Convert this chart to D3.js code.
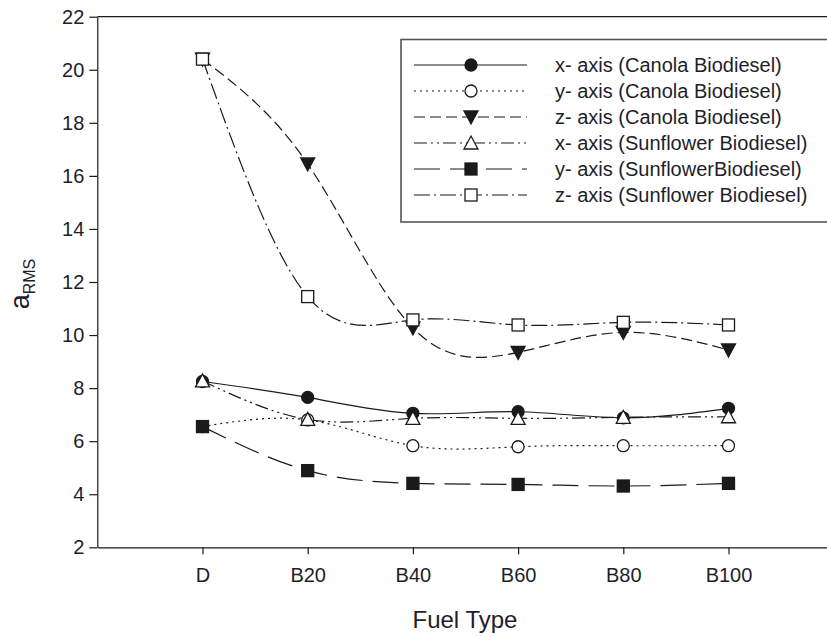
<!DOCTYPE html>
<html><head><meta charset="utf-8">
<script src="https://cdn.jsdelivr.net/npm/d3@7"></script>
<style>
html,body{margin:0;padding:0;background:#fff;}
svg{display:block;}
text{font-family:"Liberation Sans",Arial,sans-serif;fill:#1e1e2a;}
</style></head>
<body>
<script>
const categories = ["D","B20","B40","B60","B80","B100"];
const xCanola    = [8.25, 7.65, 7.05, 7.11, 6.88, 7.24];
const yCanola    = [6.55, 6.80, 5.83, 5.79, 5.83, 5.83];
const zCanola    = [20.4, 16.45, 10.27, 9.35, 10.10, 9.44];
const xSunflower = [8.27, 6.82, 6.86, 6.86, 6.90, 6.92];
const ySunflower = [6.55, 4.89, 4.41, 4.37, 4.31, 4.41];
const zSunflower = [20.4, 11.45, 10.57, 10.38, 10.48, 10.38];
const seriesNames = ["x- axis (Canola Biodiesel)","y- axis (Canola Biodiesel)","z- axis (Canola Biodiesel)",
  "x- axis (Sunflower Biodiesel)","y- axis (SunflowerBiodiesel)","z- axis (Sunflower Biodiesel)"];
const yTicks = [2,4,6,8,10,12,14,16,18,20,22];

const W = 827, H = 637;
const svg = d3.select("body").append("svg").attr("width", W).attr("height", H);

const x = d3.scaleLinear().domain([-1, 6]).range([97.3, 833.7]);
const y = d3.scaleLinear().domain([2, 22]).range([547.3, 16.7]);

const styles = [
  {dash:null, marker:"circle", fill:true},
  {dash:"2,4", marker:"circle", fill:false},
  {dash:"11,5", marker:"tri-down", fill:true},
  {dash:"13,4,2,4,2,4", marker:"tri-up", fill:false},
  {dash:"26,10", marker:"square", fill:true},
  {dash:"16,4,2,4", marker:"square", fill:false}
];
const data = [xCanola, yCanola, zCanola, xSunflower, ySunflower, zSunflower];
const ink = "#1a1a1a";

// Frame top line
svg.append("line").attr("x1", 97.3).attr("x2", W).attr("y1", 16.7).attr("y2", 16.7)
  .attr("stroke", ink).attr("stroke-width", 1.2);

// Axes
const gx = svg.append("g").attr("transform", `translate(0,${y(2)})`)
  .call(d3.axisBottom(x).tickValues(d3.range(categories.length)).tickFormat(i => categories[i]).tickSize(7).tickSizeOuter(0).tickPadding(14));
const gy = svg.append("g").attr("transform", `translate(${x(-1)},0)`)
  .call(d3.axisLeft(y).tickValues(yTicks).tickSize(8).tickSizeOuter(0).tickPadding(5));
[gx, gy].forEach(g => {
  g.selectAll("path.domain").attr("stroke", ink).attr("stroke-width", 1.2);
  g.selectAll(".tick line").attr("stroke", ink).attr("stroke-width", 1.2);
  g.selectAll("text").style("font-size", "20px").style("font-family", '"Liberation Sans",Arial,sans-serif').attr("fill", "#1e1e2a");
});

// Axis titles
svg.append("text").attr("x", 465).attr("y", 628).attr("text-anchor", "middle")
  .style("font-size", "24px").text("Fuel Type");
const yl = svg.append("text").attr("transform", "translate(29,284) rotate(-90)").attr("text-anchor", "middle")
  .style("font-size", "27px");
yl.append("tspan").text("a");
yl.append("tspan").attr("dy", 6).style("font-size", "16px").text("RMS");

// Markers
function drawMarker(g, kind, fill, cx, cy) {
  const f = fill ? ink : "#fff";
  if (kind === "circle") {
    g.append("circle").attr("cx", cx).attr("cy", cy).attr("r", 6).attr("fill", f).attr("stroke", ink).attr("stroke-width", 1.3);
  } else if (kind === "square") {
    g.append("rect").attr("x", cx - 6).attr("y", cy - 6).attr("width", 12).attr("height", 12).attr("fill", f).attr("stroke", ink).attr("stroke-width", 1.3);
  } else if (kind === "tri-down") {
    g.append("path").attr("d", `M${cx-7},${cy-6}L${cx+7},${cy-6}L${cx},${cy+7}Z`).attr("fill", f).attr("stroke", ink).attr("stroke-width", 1.3);
  } else if (kind === "tri-up") {
    g.append("path").attr("d", `M${cx-7},${cy+6}L${cx+7},${cy+6}L${cx},${cy-7}Z`).attr("fill", f).attr("stroke", ink).attr("stroke-width", 1.3);
  }
}

const line = d3.line().x((d, i) => x(i)).y(d => y(d)).curve(d3.curveNatural);
const plot = svg.append("g");
data.forEach((s, k) => {
  plot.append("path").attr("d", line(s)).attr("fill", "none").attr("stroke", ink).attr("stroke-width", 1.2)
    .attr("stroke-dasharray", styles[k].dash);
});
data.forEach((s, k) => {
  const g = plot.append("g");
  s.forEach((v, i) => drawMarker(g, styles[k].marker, styles[k].fill, x(i), y(v)));
});

// Legend
const lg = svg.append("g");
lg.append("rect").attr("x", 401).attr("y", 39.5).attr("width", 440).attr("height", 182.5)
  .attr("fill", "#fff").attr("stroke", "#555").attr("stroke-width", 1.6);
seriesNames.forEach((name, k) => {
  const ry = 65 + 26 * k;
  lg.append("line").attr("x1", 414).attr("x2", 527).attr("y1", ry).attr("y2", ry)
    .attr("stroke", ink).attr("stroke-width", 1.2).attr("stroke-dasharray", styles[k].dash);
  drawMarker(lg, styles[k].marker, styles[k].fill, 471, ry);
  lg.append("text").attr("x", 555).attr("y", ry + 7).style("font-size", "20px").text(name);
});
</script>
</body></html>
